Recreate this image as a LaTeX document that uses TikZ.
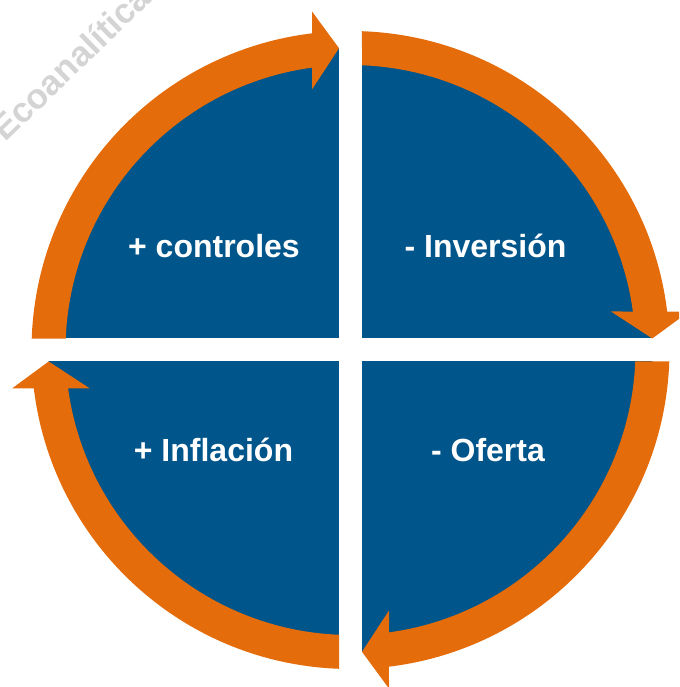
\documentclass[tikz,border=0pt]{standalone}
\usepackage{fontspec}
\setmainfont{Liberation Sans}
\definecolor{qblue}{RGB}{0,85,138}
\definecolor{qorange}{RGB}{228,108,10}
\definecolor{wmgray}{RGB}{212,212,212}
\tikzset{
  lbl/.style={text=white, font=\fontsize{32}{36}\selectfont\bfseries, anchor=base, inner sep=0pt},
  wmark/.style={text=wmgray, font=\fontsize{35}{35}\selectfont\bfseries, rotate=44, anchor=base west, inner sep=0pt},
  cyc arrow/.pic={
    \fill[qorange] (177.687:285) arc[start angle=177.687, end angle=97.764, radius=285]
      -- (-38.5,260.536) -- (-11.5,301.78) -- (-38.5,338.536)
      -- (96.932:319) arc[start angle=96.932, end angle=177.934, radius=319] -- cycle;
  }
}
\begin{document}
\begin{tikzpicture}[x=1pt,y=1pt]
\useasboundingbox (-350.5,-337) rectangle (328.5,350);
\clip (-350.5,-337) rectangle (328.5,350);
% watermark
\node[wmark] (wm) at (-345,207) {Ecoanalítica};
% blue quadrants
\fill[qblue] (0,0) circle (302);
\fill[white] (-11.5,-400) rectangle (11.5,400);
\fill[white] (-400,-11.5) rectangle (400,11.5);
% orange cycle arrows
\pic at (0,0) {cyc arrow};
\pic[rotate=-90] at (0,0) {cyc arrow};
\pic[rotate=-180] at (0,0) {cyc arrow};
\pic[rotate=-270] at (0,0) {cyc arrow};
% labels
\node[lbl] (ctrl) at (-136.5,92) {+ controles};
\node[lbl] (inv) at (135,92) {- Inversión};
\node[lbl] (infl) at (-137,-111.7) {+ Inflación};
\node[lbl] (ofer) at (137.5,-111.7) {- Oferta};
\end{tikzpicture}
\end{document}
